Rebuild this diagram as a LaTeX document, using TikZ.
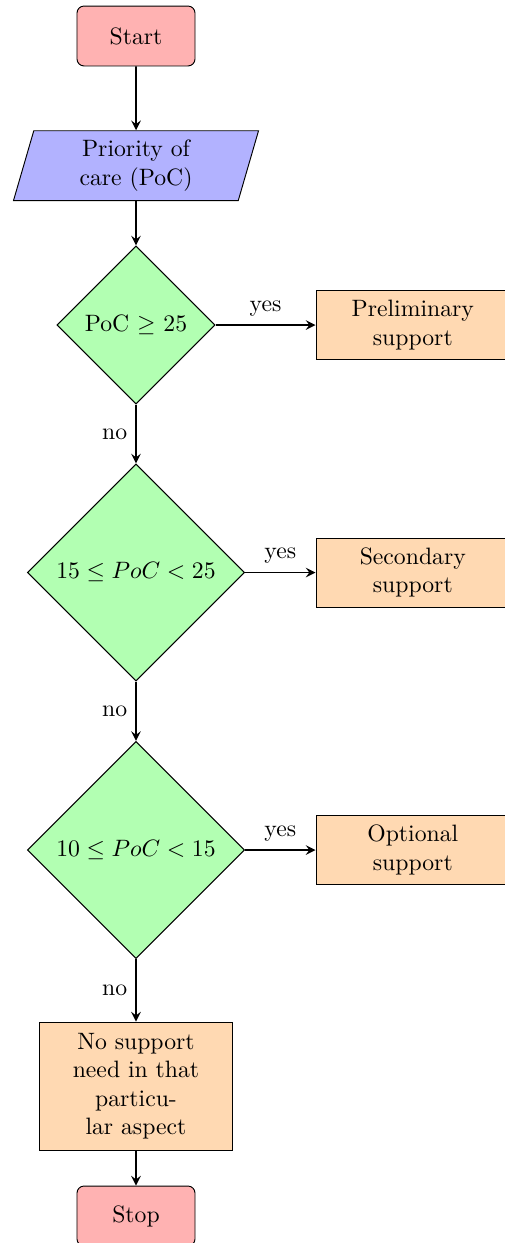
\documentclass[tikz,border=0pt]{standalone}
\usetikzlibrary{shapes.geometric,arrows}
\begin{document}
\begin{tikzpicture}[x=0.42194pt,y=-0.42194pt,
  startstop/.style={rectangle, rounded corners=3pt, draw=black, fill=red!30, minimum width=49.8pt, minimum height=25.3pt, align=center, inner sep=1pt},
  iobox/.style={trapezium, trapezium left angle=70, trapezium right angle=110, trapezium stretches body=true, draw=black, fill=blue!30, minimum width=103.4pt, minimum height=29.5pt, align=center, inner sep=1pt},
  decision/.style={diamond, aspect=1, draw=black, fill=green!30, align=center, inner sep=1pt},
  process/.style={rectangle, draw=black, fill=orange!30, minimum width=81.7pt, minimum height=29.1pt, align=center, inner sep=1pt},
  arrowline/.style={thick, -stealth},
  lbl/.style={font=\normalsize}
]
\useasboundingbox (0,0) rectangle (505,1243);
\node[startstop] (start) at (136,36) {Start};
\node[iobox] (poc) at (136,165.7) {Priority of\\care (PoC)};
\node[decision, minimum width=66.7pt, minimum height=66.7pt] (d1) at (136,325) {PoC $\geq$ 25};
\node[decision, minimum width=91.6pt, minimum height=91.6pt] (d2) at (136,572.5) {$15 \leq PoC < 25$};
\node[decision, minimum width=91.6pt, minimum height=91.6pt] (d3) at (136,850) {$10 \leq PoC < 15$};
\node[process] (prel) at (412.8,325) {Preliminary\\support};
\node[process] (sec) at (412.8,572.5) {Secondary\\support};
\node[process] (opt) at (412.8,850) {Optional\\support};
\node[process, minimum width=81.4pt, minimum height=54pt] (nosup) at (136,1086) {No support\\need in that\\particu-\\lar aspect};
\node[startstop] (stop) at (136,1216) {Stop};
\draw[arrowline] (start) -- (poc);
\draw[arrowline] (poc) -- (d1);
\draw[arrowline] (d1) -- node[midway, above, lbl] {yes} (prel);
\draw[arrowline] (d1) -- node[midway, left, lbl] {no} (d2);
\draw[arrowline] (d2) -- node[midway, above, lbl] {yes} (sec);
\draw[arrowline] (d2) -- node[midway, left, lbl] {no} (d3);
\draw[arrowline] (d3) -- node[midway, above, lbl] {yes} (opt);
\draw[arrowline] (d3) -- node[midway, left, lbl] {no} (nosup);
\draw[arrowline] (nosup) -- (stop);
\end{tikzpicture}
\end{document}
